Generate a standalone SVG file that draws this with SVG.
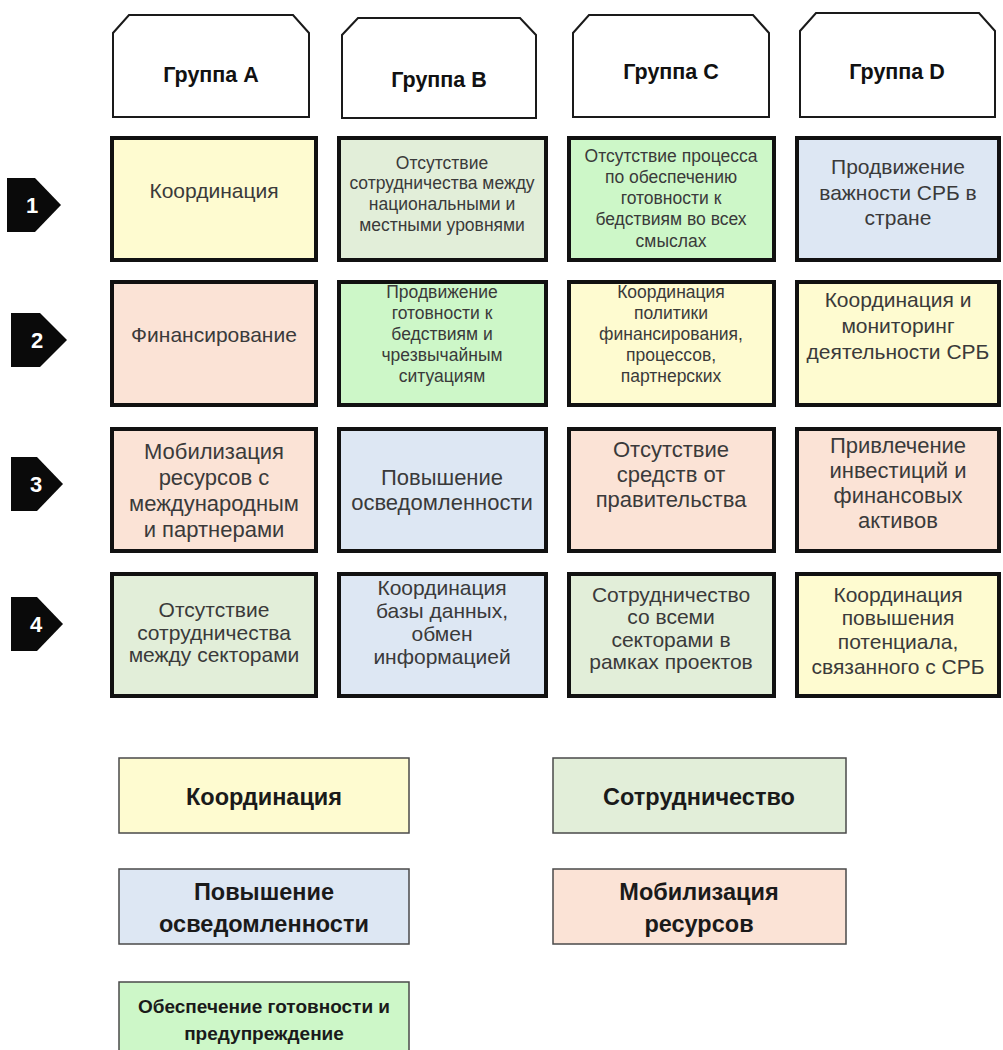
<svg xmlns="http://www.w3.org/2000/svg" width="1003" height="1050" viewBox="0 0 1003 1050">
<style>
.hdr{fill:#fff;stroke:#1a1a1a;stroke-width:2}
.hdrt{font-family:"Liberation Sans",Arial,sans-serif;font-weight:bold;font-size:21.5px;fill:#111;text-anchor:middle}
.cell{stroke:#111;stroke-width:4}
.t{font-family:"Liberation Sans",Arial,sans-serif;fill:#3a3a3a;text-anchor:middle}
.big{font-size:21px}
.sm{font-size:17.5px}
.r3{font-size:22px}
.leg{stroke:#4a4a4a;stroke-width:1.5}
.lt{font-family:"Liberation Sans",Arial,sans-serif;font-weight:bold;fill:#1a1a1a;text-anchor:middle;font-size:23.5px}
.lts{font-size:19px}
.num{fill:#0a0a0a}
.numt{font-family:"Liberation Sans",Arial,sans-serif;font-weight:bold;font-size:22px;fill:#fff;text-anchor:middle}
.y{fill:#FEFBD0}.g{fill:#E2EED9}.bg{fill:#CDF7C8}.b{fill:#DDE7F3}.p{fill:#FBE3D6}
</style>
<g id="headers">
<g id="hdrA"><path class="hdr" d="M113,117 V33 L129,15 H293 L309,33 V117 Z"/><text class="hdrt" x="211" y="82">Группа A</text></g>
<g id="hdrB"><path class="hdr" d="M342,118 V35 L358,18 H520 L536,35 V118 Z"/><text class="hdrt" x="439" y="87">Группа B</text></g>
<g id="hdrC"><path class="hdr" d="M573,117 V33 L589,15 H753 L769,33 V117 Z"/><text class="hdrt" x="671" y="79">Группа C</text></g>
<g id="hdrD"><path class="hdr" d="M800,117 V31 L816,13 H979 L995,31 V117 Z"/><text class="hdrt" x="897" y="79">Группа D</text></g>
</g>
<g id="row-markers">
<g id="m1"><path class="num" d="M7,178 H35 L61,205 L35,232 H7 Z"/><text class="numt" x="32" y="213">1</text></g>
<g id="m2"><path class="num" d="M11,313 H40 L67,340 L40,367 H11 Z"/><text class="numt" x="37" y="348">2</text></g>
<g id="m3"><path class="num" d="M11,457 H37 L63,484 L37,511 H11 Z"/><text class="numt" x="36" y="492">3</text></g>
<g id="m4"><path class="num" d="M11,597 H37 L63,624 L37,651 H11 Z"/><text class="numt" x="36" y="632">4</text></g>
</g>
<g id="row1">
<g id="a1"><rect class="cell y" x="112" y="138" width="204" height="122"/><text class="t big" x="214" y="198">Координация</text></g>
<g id="b1"><rect class="cell g" x="339" y="138" width="207" height="122"/><text class="t sm" x="442"><tspan x="442" y="169">Отсутствие</tspan><tspan x="442" y="189">сотрудничества между</tspan><tspan x="442" y="210">национальными и</tspan><tspan x="442" y="231">местными уровнями</tspan></text></g>
<g id="c1"><rect class="cell bg" x="569" y="138" width="205" height="122"/><text class="t sm" x="671"><tspan x="671" y="162">Отсутствие процесса</tspan><tspan x="671" y="183">по обеспечению</tspan><tspan x="671" y="204">готовности к</tspan><tspan x="671" y="225">бедствиям во всех</tspan><tspan x="671" y="247">смыслах</tspan></text></g>
<g id="d1"><rect class="cell b" x="797" y="138" width="202" height="122"/><text class="t big" x="898"><tspan x="898" y="174">Продвижение</tspan><tspan x="898" y="200">важности СРБ в</tspan><tspan x="898" y="225">стране</tspan></text></g>
</g>
<g id="row2">
<g id="a2"><rect class="cell p" x="112" y="282" width="204" height="123"/><text class="t big" x="214" y="342">Финансирование</text></g>
<g id="b2"><rect class="cell bg" x="339" y="282" width="207" height="123"/><text class="t sm" x="442"><tspan x="442" y="298">Продвижение</tspan><tspan x="442" y="319">готовности к</tspan><tspan x="442" y="340">бедствиям и</tspan><tspan x="442" y="361">чрезвычайным</tspan><tspan x="442" y="382">ситуациям</tspan></text></g>
<g id="c2"><rect class="cell y" x="569" y="282" width="205" height="123"/><text class="t sm" x="671"><tspan x="671" y="298">Координация</tspan><tspan x="671" y="319">политики</tspan><tspan x="671" y="340">финансирования,</tspan><tspan x="671" y="361">процессов,</tspan><tspan x="671" y="382">партнерских</tspan></text></g>
<g id="d2"><rect class="cell y" x="797" y="282" width="202" height="123"/><text class="t big" x="898"><tspan x="898" y="307">Координация и</tspan><tspan x="898" y="333">мониторинг</tspan><tspan x="898" y="359">деятельности СРБ</tspan></text></g>
</g>
<g id="row3">
<g id="a3"><rect class="cell p" x="112" y="429" width="204" height="122"/><text class="t r3" x="214"><tspan x="214" y="459">Мобилизация</tspan><tspan x="214" y="485">ресурсов с</tspan><tspan x="214" y="511">международным</tspan><tspan x="214" y="537">и партнерами</tspan></text></g>
<g id="b3"><rect class="cell b" x="339" y="429" width="207" height="122"/><text class="t r3" x="442"><tspan x="442" y="485">Повышение</tspan><tspan x="442" y="510">осведомленности</tspan></text></g>
<g id="c3"><rect class="cell p" x="569" y="429" width="205" height="122"/><text class="t r3" x="671"><tspan x="671" y="457">Отсутствие</tspan><tspan x="671" y="482">средств от</tspan><tspan x="671" y="507">правительства</tspan></text></g>
<g id="d3"><rect class="cell p" x="797" y="429" width="202" height="122"/><text class="t r3" x="898"><tspan x="898" y="453">Привлечение</tspan><tspan x="898" y="478">инвестиций и</tspan><tspan x="898" y="503">финансовых</tspan><tspan x="898" y="528">активов</tspan></text></g>
</g>
<g id="row4">
<g id="a4"><rect class="cell g" x="112" y="574" width="204" height="122"/><text class="t big" x="214"><tspan x="214" y="617">Отсутствие</tspan><tspan x="214" y="640">сотрудничества</tspan><tspan x="214" y="662">между секторами</tspan></text></g>
<g id="b4"><rect class="cell b" x="339" y="574" width="207" height="122"/><text class="t big" x="442"><tspan x="442" y="595">Координация</tspan><tspan x="442" y="618">базы данных,</tspan><tspan x="442" y="641">обмен</tspan><tspan x="442" y="664">информацией</tspan></text></g>
<g id="c4"><rect class="cell g" x="569" y="574" width="205" height="122"/><text class="t big" x="671"><tspan x="671" y="602">Сотрудничество</tspan><tspan x="671" y="624">со всеми</tspan><tspan x="671" y="647">секторами в</tspan><tspan x="671" y="669">рамках проектов</tspan></text></g>
<g id="d4"><rect class="cell y" x="797" y="574" width="202" height="122"/><text class="t big" x="898"><tspan x="898" y="602">Координация</tspan><tspan x="898" y="625">повышения</tspan><tspan x="898" y="649">потенциала,</tspan><tspan x="898" y="674">связанного с СРБ</tspan></text></g>
</g>
<g id="legend">
<g id="leg-coord"><rect class="leg y" x="119" y="758" width="290" height="75"/><text class="lt" x="264" y="805">Координация</text></g>
<g id="leg-coop"><rect class="leg g" x="553" y="758" width="293" height="75"/><text class="lt" x="699" y="805">Сотрудничество</text></g>
<g id="leg-aware"><rect class="leg b" x="119" y="869" width="290" height="75"/><text class="lt" x="264"><tspan x="264" y="900">Повышение</tspan><tspan x="264" y="932">осведомленности</tspan></text></g>
<g id="leg-mob"><rect class="leg p" x="553" y="869" width="293" height="75"/><text class="lt" x="699"><tspan x="699" y="900">Мобилизация</tspan><tspan x="699" y="932">ресурсов</tspan></text></g>
<g id="leg-prep"><rect class="leg bg" x="119" y="982" width="290" height="90"/><text class="lt lts" x="264"><tspan x="264" y="1013">Обеспечение готовности и</tspan><tspan x="264" y="1040">предупреждение</tspan></text></g>
</g>
<g id="connectors"/>
</svg>
